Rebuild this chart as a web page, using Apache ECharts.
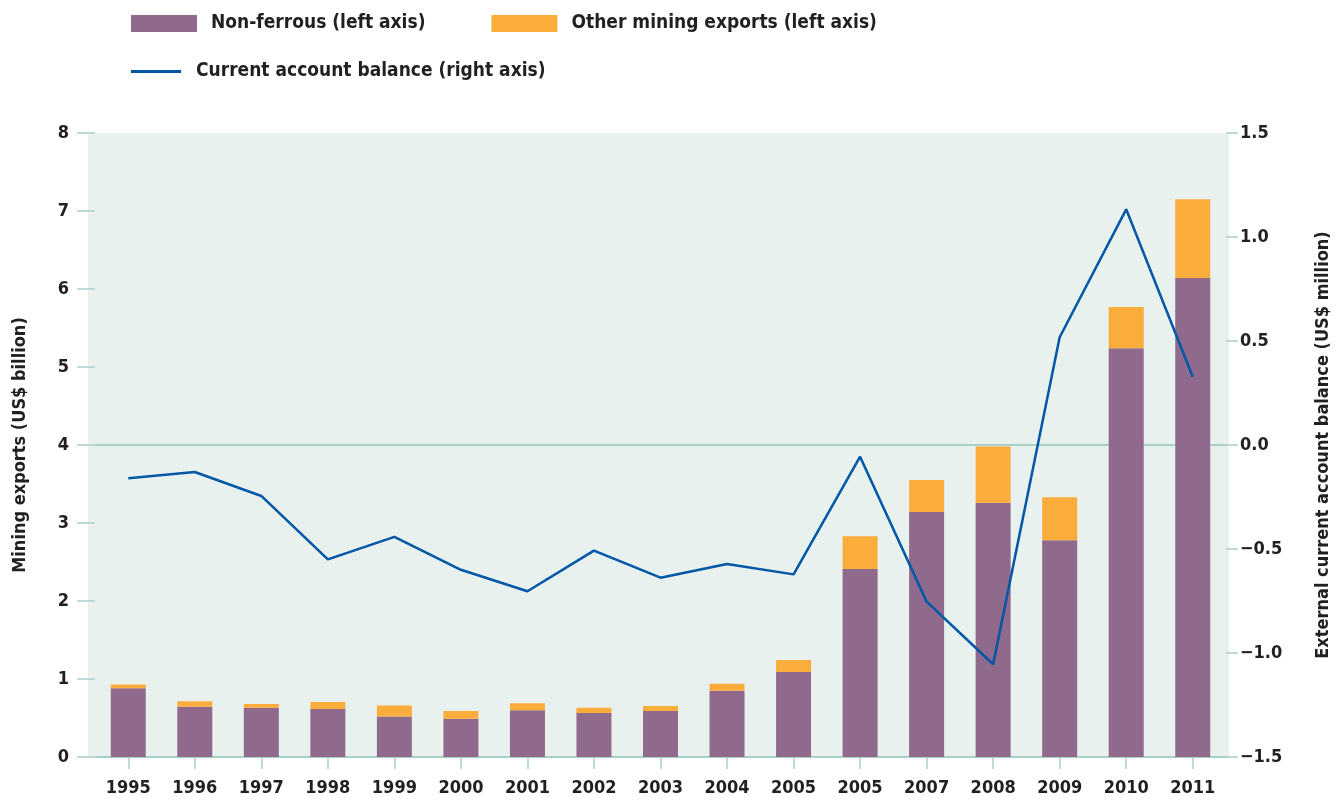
<!DOCTYPE html>
<html>
<head>
<meta charset="utf-8">
<script src="https://cdn.jsdelivr.net/npm/echarts@6/dist/echarts.min.js"></script>
<style>
  html, body { margin: 0; padding: 0; background: #fff; }
  #main { width: 1344px; height: 805px; }
</style>
</head>
<body>
<div id="main"></div>
<script>
var years = ['1995','1996','1997','1998','1999','2000','2001','2002','2003','2004','2005','2005','2007','2008','2009','2010','2011'];
var nonFerrous = [0.88,0.645,0.63,0.615,0.52,0.49,0.60,0.565,0.59,0.85,1.09,2.41,3.14,3.26,2.78,5.24,6.14];
var otherMining = [0.05,0.07,0.05,0.09,0.14,0.10,0.09,0.065,0.065,0.09,0.155,0.42,0.41,0.72,0.55,0.53,1.01];
var currentAccount = [-0.16,-0.13,-0.245,-0.55,-0.442,-0.60,-0.703,-0.508,-0.638,-0.572,-0.622,-0.056,-0.753,-1.054,0.518,1.133,0.328];

var FONT = '"DejaVu Sans Condensed", "DejaVu Sans", sans-serif';
var TXT = '#231f20';
var AXIS = '#a8cfc8';

var chart = echarts.init(document.getElementById('main'));
chart.setOption({
  animation: false,
  textStyle: { fontFamily: FONT },
  legend: [{
    left: 126, top: 9,
    itemWidth: 66, itemHeight: 17, itemGap: 66,
    icon: 'rect',
    data: ['Non-ferrous (left axis)', 'Other mining exports (left axis)'],
    textStyle: { fontFamily: FONT, fontWeight: 'bold', fontSize: 19, color: TXT, padding: [0, 0, 0, 9] }
  }, {
    left: 126, top: 57,
    itemWidth: 50, itemHeight: 3,
    data: [{ name: 'Current account balance (right axis)', icon: 'rect' }],
    textStyle: { fontFamily: FONT, fontWeight: 'bold', fontSize: 19, color: TXT, padding: [0, 0, 0, 10] }
  }],
  grid: [{
    // shaded panel, a little wider than the category band
    left: 88, right: 115, top: 133, bottom: 48,
    show: true, backgroundColor: '#e8f1ee', borderWidth: 0
  }, {
    left: 95, right: 118, top: 133, bottom: 48
  }],
  xAxis: {
    type: 'category', gridIndex: 1,
    data: years,
    axisLine: { lineStyle: { color: AXIS, width: 2 } },
    axisTick: { show: true, alignWithLabel: true, length: 12, lineStyle: { color: AXIS, width: 1.5 } },
    axisLabel: { interval: 0, margin: 22, color: TXT, fontSize: 18, fontWeight: 'bold', fontFamily: FONT }
  },
  yAxis: [{
    type: 'value', gridIndex: 1, min: 0, max: 8, interval: 1,
    name: 'Mining exports (US$ billion)',
    nameLocation: 'middle', nameRotate: 90, nameGap: 66,
    nameTextStyle: { color: TXT, fontSize: 18, fontWeight: 'bold', fontFamily: FONT },
    axisLine: { show: false },
    axisTick: { show: true, length: 18, lineStyle: { color: AXIS, width: 1.5 } },
    splitLine: { show: false },
    axisLabel: { margin: 26, color: TXT, fontSize: 18, fontWeight: 'bold', fontFamily: FONT }
  }, {
    type: 'value', gridIndex: 1, min: -1.5, max: 1.5, interval: 0.5,
    position: 'right',
    name: 'External current account balance (US$ million)',
    nameLocation: 'middle', nameRotate: 90, nameGap: 88,
    nameTextStyle: { color: TXT, fontSize: 18, fontWeight: 'bold', fontFamily: FONT },
    axisLine: { show: false },
    axisTick: { show: true, length: 12, lineStyle: { color: AXIS, width: 1.5 } },
    splitLine: { show: false },
    axisLabel: {
      margin: 14, color: TXT, fontSize: 18, fontWeight: 'bold', fontFamily: FONT,
      formatter: function (v) { return (v < 0 ? '\u2212' : '') + Math.abs(v).toFixed(1); }
    }
  }],
  series: [{
    name: 'Non-ferrous (left axis)',
    type: 'bar', stack: 'exports', barWidth: 35,
    itemStyle: { color: '#8f6a8c' },
    data: nonFerrous
  }, {
    name: 'Other mining exports (left axis)',
    type: 'bar', stack: 'exports', barWidth: 35,
    itemStyle: { color: '#fbad3c' },
    data: otherMining
  }, {
    name: 'Current account balance (right axis)',
    type: 'line', yAxisIndex: 1, z: 5,
    symbol: 'none',
    lineStyle: { color: '#0056a6', width: 2.5 },
    itemStyle: { color: '#0056a6' },
    markLine: {
      silent: true, symbol: 'none', z: 1,
      label: { show: false },
      lineStyle: { color: AXIS, width: 2, type: 'solid' },
      data: [{ yAxis: 0 }]
    },
    data: currentAccount
  }]
});
</script>
</body>
</html>
